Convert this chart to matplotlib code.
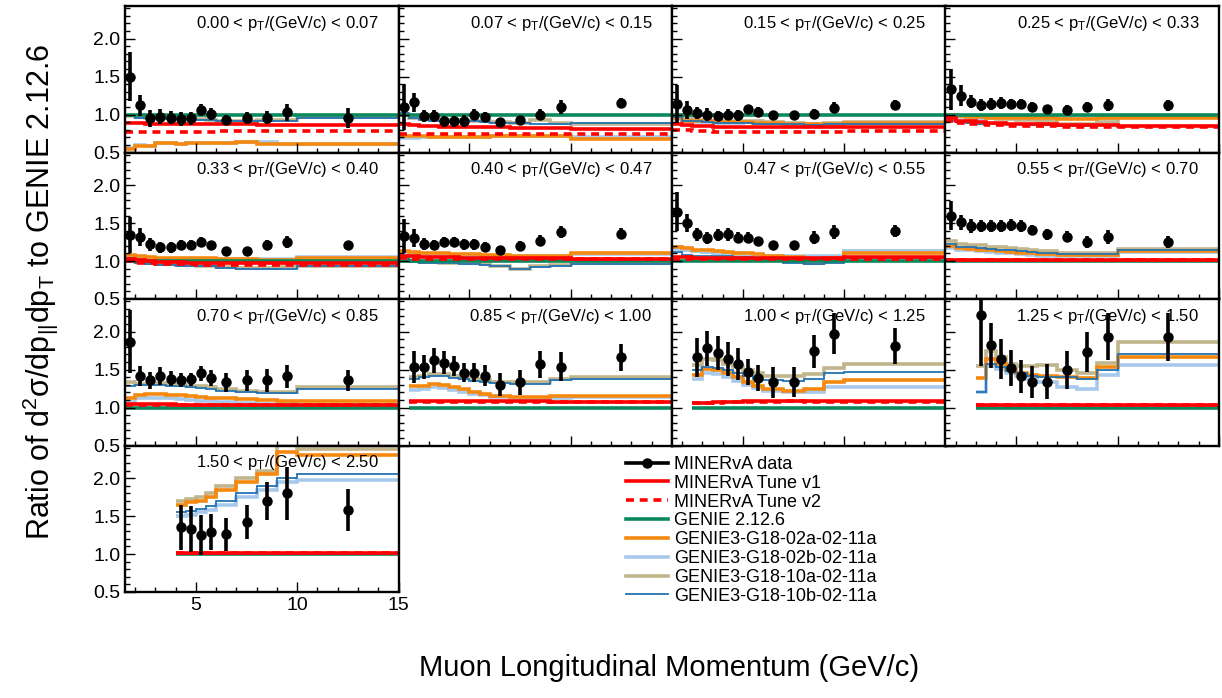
import numpy as np
import matplotlib
matplotlib.use("Agg")
import matplotlib.pyplot as plt
from matplotlib.lines import Line2D
from matplotlib.ticker import MultipleLocator

plt.rcParams['font.family'] = ['Liberation Sans', 'DejaVu Sans']
plt.rcParams['mathtext.fontset'] = 'custom'
plt.rcParams['mathtext.rm'] = 'Liberation Sans'
plt.rcParams['mathtext.it'] = 'Liberation Sans:italic'
plt.rcParams['mathtext.bf'] = 'Liberation Sans:bold'
plt.rcParams['mathtext.sf'] = 'Liberation Sans'

# Muon longitudinal momentum bin edges (GeV/c)
pl_edges = [1.5, 2.0, 2.5, 3.0, 3.5, 4.0, 4.5, 5.0, 5.5, 6.0, 7.0, 8.0, 9.0, 10.0, 15.0]
# Transverse momentum slices (GeV/c)
pt_edges = ["0.00", "0.07", "0.15", "0.25", "0.33", "0.40", "0.47",
            "0.55", "0.70", "0.85", "1.00", "1.25", "1.50", "2.50"]
# first populated p|| bin in each pT slice
first_bin = [0, 0, 0, 0, 0, 0, 0, 0, 0, 1, 2, 3, 5]

# MINERvA data / GENIE 2.12.6
data_ratio = [
    [1.50, 1.12, 0.95, 0.97, 0.96, 0.94, 0.95, 1.06, 1.01, 0.93, 0.96, 0.96, 1.03, 0.95],
    [1.10, 1.16, 0.98, 0.98, 0.91, 0.91, 0.92, 1.00, 0.97, 0.90, 0.93, 1.00, 1.10, 1.15],
    [1.14, 1.06, 1.02, 1.00, 0.98, 1.00, 0.99, 1.07, 1.04, 1.00, 0.99, 1.01, 1.09, 1.13],
    [1.33, 1.25, 1.17, 1.13, 1.14, 1.15, 1.14, 1.14, 1.10, 1.07, 1.06, 1.10, 1.13, 1.12],
    [1.34, 1.32, 1.22, 1.18, 1.18, 1.21, 1.21, 1.25, 1.21, 1.13, 1.13, 1.21, 1.25, 1.21],
    [1.33, 1.30, 1.23, 1.21, 1.25, 1.25, 1.22, 1.22, 1.19, 1.15, 1.20, 1.27, 1.38, 1.36],
    [1.65, 1.50, 1.35, 1.30, 1.34, 1.35, 1.31, 1.31, 1.26, 1.21, 1.21, 1.31, 1.38, 1.40],
    [1.60, 1.51, 1.46, 1.46, 1.46, 1.46, 1.48, 1.46, 1.41, 1.35, 1.32, 1.25, 1.32, 1.25],
    [1.87, 1.42, 1.36, 1.42, 1.38, 1.36, 1.37, 1.45, 1.39, 1.33, 1.36, 1.36, 1.41, 1.36],
    [1.53, 1.53, 1.62, 1.59, 1.55, 1.46, 1.46, 1.42, 1.30, 1.33, 1.57, 1.54, 1.66],
    [1.66, 1.78, 1.72, 1.64, 1.57, 1.47, 1.39, 1.33, 1.34, 1.74, 1.97, 1.81],
    [2.22, 1.82, 1.64, 1.52, 1.41, 1.34, 1.34, 1.50, 1.73, 1.93, 1.93],
    [1.35, 1.33, 1.25, 1.29, 1.26, 1.42, 1.70, 1.80, 1.58],
]
data_err = [
    [0.32, 0.14, 0.11, 0.10, 0.09, 0.09, 0.09, 0.08, 0.08, 0.07, 0.08, 0.09, 0.11, 0.13],
    [0.30, 0.12, 0.08, 0.08, 0.07, 0.07, 0.08, 0.07, 0.06, 0.05, 0.05, 0.07, 0.09, 0.07],
    [0.25, 0.12, 0.08, 0.08, 0.07, 0.07, 0.07, 0.06, 0.06, 0.05, 0.05, 0.06, 0.07, 0.06],
    [0.27, 0.14, 0.09, 0.08, 0.08, 0.08, 0.07, 0.07, 0.06, 0.05, 0.06, 0.07, 0.08, 0.07],
    [0.24, 0.12, 0.09, 0.07, 0.07, 0.07, 0.07, 0.07, 0.06, 0.05, 0.06, 0.07, 0.08, 0.06],
    [0.23, 0.12, 0.08, 0.07, 0.07, 0.07, 0.07, 0.07, 0.06, 0.05, 0.06, 0.07, 0.08, 0.07],
    [0.26, 0.12, 0.09, 0.08, 0.08, 0.08, 0.07, 0.07, 0.06, 0.06, 0.06, 0.09, 0.09, 0.08],
    [0.19, 0.10, 0.09, 0.08, 0.08, 0.08, 0.08, 0.08, 0.07, 0.07, 0.07, 0.08, 0.09, 0.08],
    [0.42, 0.13, 0.11, 0.12, 0.10, 0.09, 0.09, 0.10, 0.10, 0.12, 0.14, 0.15, 0.15, 0.14],
    [0.21, 0.16, 0.16, 0.15, 0.13, 0.13, 0.13, 0.14, 0.15, 0.16, 0.18, 0.19, 0.18],
    [0.26, 0.23, 0.22, 0.22, 0.21, 0.17, 0.17, 0.20, 0.20, 0.22, 0.27, 0.24],
    [0.67, 0.30, 0.26, 0.24, 0.22, 0.21, 0.23, 0.25, 0.26, 0.31, 0.32],
    [0.30, 0.30, 0.26, 0.24, 0.22, 0.22, 0.25, 0.35, 0.28],
]

tune_v1 = [
    [0.89, 0.89, 0.88, 0.88, 0.88, 0.87, 0.87, 0.87, 0.87, 0.87, 0.87, 0.86, 0.86, 0.86],
    [0.87, 0.86, 0.85, 0.85, 0.84, 0.84, 0.84, 0.83, 0.83, 0.83, 0.82, 0.82, 0.82, 0.81],
    [0.88, 0.86, 0.85, 0.85, 0.84, 0.84, 0.84, 0.84, 0.83, 0.83, 0.83, 0.83, 0.83, 0.83],
    [0.95, 0.92, 0.91, 0.90, 0.89, 0.89, 0.88, 0.88, 0.88, 0.87, 0.86, 0.86, 0.86, 0.85],
    [1.03, 1.01, 1.00, 0.99, 0.99, 0.99, 0.98, 0.98, 0.98, 0.98, 0.97, 0.97, 0.97, 0.98],
    [1.07, 1.06, 1.05, 1.05, 1.05, 1.05, 1.04, 1.04, 1.04, 1.04, 1.04, 1.04, 1.04, 1.03],
    [1.05, 1.05, 1.04, 1.04, 1.04, 1.04, 1.04, 1.04, 1.04, 1.04, 1.04, 1.04, 1.04, 1.05],
    [1.02, 1.02, 1.02, 1.02, 1.02, 1.02, 1.02, 1.02, 1.02, 1.02, 1.02, 1.02, 1.02, 1.02],
    [1.05, 1.05, 1.05, 1.05, 1.05, 1.04, 1.04, 1.04, 1.04, 1.04, 1.04, 1.04, 1.04, 1.03],
    [1.08, 1.08, 1.08, 1.08, 1.08, 1.08, 1.08, 1.08, 1.08, 1.08, 1.08, 1.07, 1.07],
    [1.06, 1.06, 1.07, 1.07, 1.07, 1.08, 1.08, 1.08, 1.09, 1.08, 1.08, 1.08],
    [1.04, 1.04, 1.04, 1.04, 1.04, 1.04, 1.04, 1.04, 1.04, 1.04, 1.03],
    [1.02, 1.02, 1.02, 1.02, 1.02, 1.02, 1.02, 1.02, 1.02],
]
tune_v2 = [
    [0.77, 0.77, 0.77, 0.77, 0.77, 0.77, 0.77, 0.77, 0.77, 0.78, 0.78, 0.78, 0.78, 0.78],
    [0.75, 0.75, 0.74, 0.74, 0.74, 0.74, 0.74, 0.74, 0.74, 0.74, 0.74, 0.74, 0.74, 0.74],
    [0.80, 0.79, 0.78, 0.78, 0.77, 0.77, 0.77, 0.77, 0.77, 0.77, 0.77, 0.77, 0.77, 0.78],
    [0.91, 0.89, 0.88, 0.87, 0.86, 0.86, 0.85, 0.85, 0.85, 0.85, 0.84, 0.84, 0.84, 0.84],
    [1.00, 0.98, 0.97, 0.96, 0.96, 0.96, 0.96, 0.95, 0.95, 0.95, 0.95, 0.95, 0.95, 0.95],
    [1.04, 1.03, 1.03, 1.03, 1.03, 1.03, 1.03, 1.03, 1.03, 1.03, 1.03, 1.03, 1.03, 1.03],
    [1.03, 1.03, 1.03, 1.03, 1.03, 1.03, 1.03, 1.03, 1.03, 1.03, 1.03, 1.03, 1.03, 1.03],
    [1.01, 1.01, 1.01, 1.01, 1.01, 1.01, 1.01, 1.01, 1.01, 1.01, 1.01, 1.01, 1.01, 1.01],
    [1.03, 1.03, 1.03, 1.03, 1.03, 1.03, 1.03, 1.03, 1.03, 1.03, 1.03, 1.03, 1.03, 1.03],
    [1.07, 1.07, 1.07, 1.07, 1.07, 1.07, 1.07, 1.07, 1.07, 1.07, 1.07, 1.07, 1.07],
    [1.06, 1.06, 1.06, 1.07, 1.07, 1.07, 1.07, 1.07, 1.08, 1.07, 1.07, 1.07],
    [1.03, 1.03, 1.03, 1.03, 1.03, 1.03, 1.03, 1.03, 1.03, 1.03, 1.03],
    [1.01, 1.01, 1.01, 1.01, 1.01, 1.01, 1.01, 1.01, 1.01],
]
genie_2126 = [
    [1.0] * 14, [1.0] * 14, [1.0] * 14, [1.0] * 14, [1.0] * 14, [1.0] * 14, [1.0] * 14,
    [1.0] * 14, [1.0] * 14, [1.0] * 13, [1.0] * 12, [1.0] * 11, [1.0] * 9,
]
g18_02a = [
    [0.54, 0.58, 0.59, 0.62, 0.62, 0.61, 0.62, 0.63, 0.63, 0.62, 0.64, 0.61, 0.61, 0.61],
    [0.72, 0.72, 0.72, 0.71, 0.71, 0.71, 0.71, 0.71, 0.71, 0.72, 0.72, 0.72, 0.72, 0.68],
    [0.95, 0.92, 0.91, 0.91, 0.90, 0.90, 0.90, 0.90, 0.89, 0.89, 0.88, 0.87, 0.88, 0.89],
    [0.99, 0.98, 0.97, 0.97, 0.96, 0.96, 0.96, 0.96, 0.95, 0.95, 0.94, 0.94, 0.95, 0.96],
    [1.08, 1.06, 1.05, 1.04, 1.04, 1.04, 1.04, 1.04, 1.04, 1.03, 1.03, 1.02, 1.02, 1.04],
    [1.13, 1.12, 1.11, 1.10, 1.10, 1.09, 1.09, 1.09, 1.08, 1.08, 1.07, 1.07, 1.07, 1.11],
    [1.19, 1.17, 1.15, 1.14, 1.13, 1.12, 1.11, 1.10, 1.09, 1.07, 1.05, 1.03, 1.04, 1.10],
    [1.20, 1.17, 1.16, 1.15, 1.14, 1.13, 1.12, 1.11, 1.10, 1.09, 1.08, 1.08, 1.08, 1.13],
    [1.12, 1.16, 1.18, 1.18, 1.17, 1.16, 1.15, 1.14, 1.13, 1.12, 1.11, 1.10, 1.09, 1.08],
    [1.28, 1.29, 1.31, 1.30, 1.27, 1.24, 1.21, 1.18, 1.15, 1.14, 1.14, 1.15, 1.15],
    [1.43, 1.51, 1.49, 1.45, 1.40, 1.34, 1.29, 1.25, 1.22, 1.24, 1.33, 1.36],
    [1.39, 1.64, 1.58, 1.50, 1.46, 1.43, 1.41, 1.40, 1.39, 1.53, 1.67],
    [1.65, 1.68, 1.70, 1.75, 1.85, 1.95, 2.05, 2.35, 2.30],
]
g18_02b = [
    [0.56, 0.60, 0.58, 0.62, 0.63, 0.61, 0.62, 0.62, 0.62, 0.62, 0.64, 0.64, 0.61, 0.61],
    [0.69, 0.69, 0.70, 0.70, 0.70, 0.70, 0.71, 0.71, 0.71, 0.72, 0.72, 0.72, 0.72, 0.71],
    [0.94, 0.91, 0.90, 0.90, 0.89, 0.89, 0.89, 0.90, 0.89, 0.89, 0.88, 0.87, 0.88, 0.89],
    [0.98, 0.97, 0.97, 0.96, 0.96, 0.96, 0.96, 0.96, 0.96, 0.96, 0.95, 0.95, 0.96, 0.97],
    [1.06, 1.05, 1.04, 1.03, 1.03, 1.03, 1.03, 1.03, 1.03, 1.03, 1.03, 1.03, 1.03, 1.05],
    [1.10, 1.10, 1.09, 1.08, 1.08, 1.08, 1.07, 1.07, 1.07, 1.06, 1.06, 1.06, 1.06, 1.09],
    [1.16, 1.14, 1.13, 1.12, 1.11, 1.10, 1.10, 1.09, 1.08, 1.07, 1.06, 1.06, 1.07, 1.13],
    [1.17, 1.15, 1.14, 1.13, 1.12, 1.11, 1.10, 1.09, 1.08, 1.07, 1.07, 1.07, 1.07, 1.12],
    [1.07, 1.12, 1.13, 1.13, 1.12, 1.11, 1.10, 1.09, 1.08, 1.07, 1.06, 1.05, 1.05, 1.04],
    [1.23, 1.25, 1.27, 1.26, 1.23, 1.20, 1.18, 1.16, 1.14, 1.13, 1.13, 1.13, 1.14],
    [1.38, 1.45, 1.44, 1.40, 1.35, 1.30, 1.26, 1.22, 1.20, 1.21, 1.27, 1.27],
    [1.21, 1.55, 1.51, 1.46, 1.41, 1.37, 1.33, 1.27, 1.25, 1.43, 1.56],
    [1.50, 1.52, 1.55, 1.58, 1.65, 1.75, 1.85, 1.95, 1.97],
]
g18_10a = [
    [0.98, 0.97, 0.96, 0.96, 0.95, 0.95, 0.94, 0.94, 0.93, 0.92, 0.92, 0.93, 0.93, 0.97],
    [1.00, 0.96, 0.95, 0.94, 0.93, 0.93, 0.92, 0.92, 0.91, 0.90, 0.89, 0.93, 0.89, 0.87],
    [1.00, 0.95, 0.93, 0.92, 0.92, 0.92, 0.92, 0.91, 0.91, 0.90, 0.89, 0.88, 0.89, 0.90],
    [1.00, 0.98, 0.96, 0.95, 0.95, 0.94, 0.94, 0.93, 0.93, 0.92, 0.88, 0.88, 0.90, 0.97],
    [1.05, 0.99, 0.97, 0.96, 0.96, 0.95, 0.95, 0.94, 0.94, 0.92, 0.91, 0.91, 0.92, 0.94],
    [1.05, 1.00, 0.99, 0.99, 0.98, 0.98, 0.97, 0.97, 0.96, 0.94, 0.90, 0.93, 0.95, 0.97],
    [1.18, 1.15, 1.13, 1.12, 1.11, 1.10, 1.09, 1.08, 1.07, 1.04, 1.00, 0.98, 1.00, 1.13],
    [1.27, 1.22, 1.21, 1.21, 1.19, 1.18, 1.17, 1.16, 1.15, 1.13, 1.10, 1.10, 1.10, 1.16],
    [1.34, 1.31, 1.31, 1.32, 1.31, 1.30, 1.29, 1.28, 1.27, 1.24, 1.22, 1.21, 1.21, 1.27],
    [1.40, 1.42, 1.44, 1.44, 1.42, 1.39, 1.37, 1.36, 1.34, 1.33, 1.33, 1.38, 1.40],
    [1.56, 1.64, 1.62, 1.58, 1.54, 1.49, 1.45, 1.42, 1.41, 1.44, 1.52, 1.58],
    [1.55, 1.75, 1.66, 1.58, 1.55, 1.55, 1.56, 1.50, 1.46, 1.59, 1.86],
    [1.70, 1.73, 1.75, 1.80, 1.90, 2.00, 2.10, 2.55, 2.38],
]
g18_10b = [
    [0.99, 0.96, 0.95, 0.95, 0.94, 0.94, 0.94, 0.93, 0.93, 0.91, 0.91, 0.91, 0.91, 0.96],
    [1.02, 0.95, 0.93, 0.92, 0.92, 0.91, 0.91, 0.91, 0.90, 0.89, 0.89, 0.87, 0.87, 0.89],
    [0.97, 0.92, 0.91, 0.90, 0.89, 0.89, 0.89, 0.89, 0.88, 0.88, 0.87, 0.86, 0.87, 0.88],
    [0.92, 0.90, 0.89, 0.88, 0.88, 0.87, 0.87, 0.87, 0.86, 0.86, 0.85, 0.85, 0.86, 0.85],
    [1.04, 0.98, 0.96, 0.95, 0.95, 0.94, 0.94, 0.93, 0.93, 0.91, 0.90, 0.90, 0.90, 0.93],
    [1.04, 0.99, 0.98, 0.98, 0.97, 0.97, 0.96, 0.96, 0.95, 0.93, 0.89, 0.92, 0.94, 0.96],
    [1.12, 1.08, 1.07, 1.07, 1.06, 1.06, 1.05, 1.05, 1.04, 1.02, 0.98, 0.96, 0.97, 1.04],
    [1.22, 1.19, 1.18, 1.17, 1.16, 1.15, 1.14, 1.13, 1.12, 1.11, 1.09, 1.09, 1.09, 1.14],
    [1.29, 1.30, 1.30, 1.30, 1.29, 1.28, 1.27, 1.26, 1.25, 1.22, 1.20, 1.19, 1.19, 1.24],
    [1.37, 1.40, 1.42, 1.41, 1.39, 1.37, 1.35, 1.34, 1.32, 1.31, 1.31, 1.36, 1.38],
    [1.49, 1.53, 1.52, 1.50, 1.46, 1.41, 1.37, 1.36, 1.35, 1.37, 1.45, 1.47],
    [1.21, 1.57, 1.53, 1.48, 1.45, 1.42, 1.40, 1.40, 1.38, 1.49, 1.71],
    [1.55, 1.57, 1.60, 1.63, 1.70, 1.80, 1.90, 2.00, 2.05],
]

legend_labels = ["MINERvA data", "MINERvA Tune v1", "MINERvA Tune v2", "GENIE 2.12.6",
                 "GENIE3-G18-02a-02-11a", "GENIE3-G18-02b-02-11a",
                 "GENIE3-G18-10a-02-11a", "GENIE3-G18-10b-02-11a"]

C_RED = "#ff0000"
C_GREEN = "#0a8a5c"
C_ORANGE = "#f5890f"
C_LBLUE = "#a6c9ec"
C_TAN = "#c1b58c"
C_BLUE = "#2373b2"

# curves drawn back to front: (values, colour, width, style)
curves = [
    (g18_10a, C_TAN, 2.6, "solid"),
    (g18_02b, C_LBLUE, 2.6, "solid"),
    (g18_02a, C_ORANGE, 2.6, "solid"),
    (g18_10b, C_BLUE, 1.3, "solid"),
    (genie_2126, C_GREEN, 2.6, "solid"),
    (tune_v1, C_RED, 2.6, "solid"),
    (tune_v2, C_RED, 2.6, (0, (2.2, 1.6))),
]

W, H = 1222, 698
fig = plt.figure(figsize=(W / 100, H / 100), dpi=100)
left, right = 125 / W, 1219 / W
top, bottom = 1 - 6 / H, 1 - 592 / H
pw = (right - left) / 4
ph = (top - bottom) / 4

for i in range(13):
    r, c = divmod(i, 4)
    ax = fig.add_axes([left + c * pw, top - (r + 1) * ph, pw, ph])
    edges = np.array(pl_edges[first_bin[i]:])
    centers = 0.5 * (edges[:-1] + edges[1:])
    for vals, col, lw, ls in curves:
        ax.stairs(vals[i], edges, baseline=None, color=col, lw=lw, linestyle=ls)
    ax.errorbar(centers, data_ratio[i], yerr=data_err[i], fmt="o", color="black",
                ms=6.5, elinewidth=2.6, capsize=0, zorder=5)
    ax.set_xlim(1.5, 15)
    ax.set_ylim(0.5, 2.43)
    ax.xaxis.set_major_locator(MultipleLocator(5))
    ax.xaxis.set_minor_locator(MultipleLocator(1))
    ax.yaxis.set_major_locator(MultipleLocator(0.5))
    ax.yaxis.set_minor_locator(MultipleLocator(0.1))
    ax.tick_params(which="both", direction="in", top=False, right=False,
                   labelsize=14, width=1.0)
    ax.tick_params(which="major", length=7)
    ax.tick_params(which="minor", length=3.5)
    for sp in ax.spines.values():
        sp.set_linewidth(1.7)
    ax.tick_params(labelbottom=(i == 12), labelleft=(c == 0))
    if c == 0:
        ax.set_yticklabels([f"{v:.1f}" for v in ax.get_yticks()])
    ax.text(0.928, 0.85,
            rf"{pt_edges[i]} < $\mathregular{{p_{{T}}}}$/(GeV/c) < {pt_edges[i + 1]}",
            transform=ax.transAxes, ha="right", va="baseline", fontsize=12)

handles = [
    Line2D([], [], color="black", lw=2.6, marker="o", ms=6.5),
    Line2D([], [], color=C_RED, lw=2.6),
    Line2D([], [], color=C_RED, lw=2.6, linestyle=(0, (2.2, 1.6))),
    Line2D([], [], color=C_GREEN, lw=2.6),
    Line2D([], [], color=C_ORANGE, lw=2.6),
    Line2D([], [], color=C_LBLUE, lw=2.6),
    Line2D([], [], color=C_TAN, lw=2.6),
    Line2D([], [], color=C_BLUE, lw=1.3),
]
fig.legend(handles, legend_labels, loc="upper left",
           bbox_to_anchor=(626 / W, 1 - 456 / H), frameon=False, fontsize=13,
           handlelength=2.3, handletextpad=0.35, labelspacing=0.1,
           borderpad=0, borderaxespad=0)

fig.text(669 / W, 1 - 668 / H, "Muon Longitudinal Momentum (GeV/c)",
         ha="center", va="center", fontsize=21)
fig.text(40 / W, 1 - 292 / H,
         r"Ratio of $\mathregular{d^{2}\sigma/dp_{||}dp_{T}}$ to GENIE 2.12.6",
         ha="center", va="center", rotation=90, fontsize=22)

fig.savefig("out.png", dpi=100)
